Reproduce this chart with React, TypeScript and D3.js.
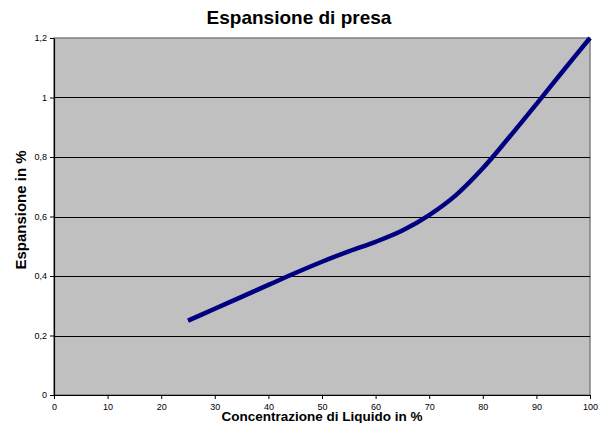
import { useEffect, useRef } from 'react'
import * as d3 from 'd3'

const concentrazione = [25, 30, 35, 40, 45, 50, 55, 60, 65, 70, 75, 80, 85, 90, 95, 100]
const espansione = [0.25, 0.29, 0.33, 0.37, 0.41, 0.448, 0.483, 0.515, 0.553, 0.605, 0.672, 0.762, 0.868, 0.978, 1.09, 1.2]
const xTicks = [0, 10, 20, 30, 40, 50, 60, 70, 80, 90, 100]
const yTicks = [0, 0.2, 0.4, 0.6, 0.8, 1, 1.2]

const W = 605
const H = 423
const margin = { top: 38, right: 15, bottom: 28, left: 54 }
const FONT = 'Liberation Sans, Arial, sans-serif'

export default function App() {
  const ref = useRef<SVGSVGElement>(null)

  useEffect(() => {
    const svg = d3.select(ref.current)
    svg.selectAll('*').remove()

    const iw = W - margin.left - margin.right
    const ih = H - margin.top - margin.bottom
    const x = d3.scaleLinear().domain([0, 100]).range([0, iw])
    const y = d3.scaleLinear().domain([0, 1.2]).range([ih, 0])
    const fmt = (d: number) => String(d).replace('.', ',')

    svg.append('rect').attr('width', W).attr('height', H).attr('fill', '#fff')

    // Title, centred on the whole chart
    svg.append('text').attr('x', 299).attr('y', 24)
      .attr('text-anchor', 'middle').attr('font-family', FONT)
      .attr('font-size', 19).attr('font-weight', 'bold').text('Espansione di presa')

    const g = svg.append('g').attr('transform', `translate(${margin.left},${margin.top})`)

    // Plot area
    g.append('rect').attr('width', iw).attr('height', ih)
      .attr('fill', '#c0c0c0').attr('stroke', '#808080').attr('stroke-width', 1.5)

    // Grid
    g.append('g').selectAll('line').data(yTicks.filter(d => d > 0 && d < 1.2)).join('line')
      .attr('x1', 0).attr('x2', iw)
      .attr('y1', d => Math.round(y(d)) + 0.5).attr('y2', d => Math.round(y(d)) + 0.5)
      .attr('stroke', '#000').attr('stroke-width', 1)

    // Axes
    const yAxis = g.append('g')
      .call(d3.axisLeft(y).tickValues(yTicks).tickSize(4).tickSizeOuter(0).tickFormat(d => fmt(+d)))
    const xAxis = g.append('g').attr('transform', `translate(0,${ih})`)
      .call(d3.axisBottom(x).tickValues(xTicks).tickSize(4).tickSizeOuter(0).tickFormat(d => String(d)))
    for (const ax of [yAxis, xAxis]) {
      ax.select('.domain').attr('stroke', '#000').attr('stroke-width', 1.2)
      ax.selectAll('.tick line').attr('stroke', '#000')
      ax.selectAll('text').attr('fill', '#000').attr('font-size', 9).attr('font-family', FONT)
    }
    xAxis.selectAll('text').attr('dy', '0.9em')

    // Line
    const pts = concentrazione.map((c, i) => [c, espansione[i]] as [number, number])
    const line = d3.line<[number, number]>().x(d => x(d[0])).y(d => y(d[1])).curve(d3.curveCatmullRom.alpha(0.5))
    g.append('path').datum(pts).attr('d', line)
      .attr('fill', 'none').attr('stroke', '#000080').attr('stroke-width', 4.5)

    // Axis titles
    svg.append('text').attr('x', margin.left + iw / 2).attr('y', 421)
      .attr('text-anchor', 'middle').attr('font-family', FONT)
      .attr('font-size', 13.5).attr('font-weight', 'bold').text('Concentrazione di Liquido in %')
    svg.append('text').attr('transform', 'translate(26,210) rotate(-90)')
      .attr('text-anchor', 'middle').attr('font-family', FONT)
      .attr('font-size', 15).attr('font-weight', 'bold').text('Espansione in %')
  }, [])

  return <svg ref={ref} width={W} height={H} style={{ position: 'absolute', left: 0, top: 0 }} />
}
